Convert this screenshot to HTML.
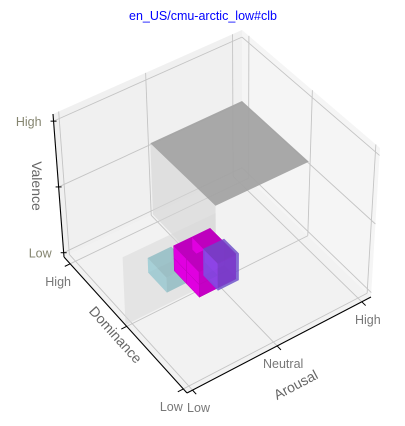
<!DOCTYPE html>
<html><head><meta charset="utf-8">
<style>
body{margin:0;background:#fff;}
svg{display:block;font-family:"Liberation Sans","DejaVu Sans",sans-serif;}
</style></head>
<body>
<svg id="chart" width="405" height="426" viewBox="0 0 405 426" xmlns="http://www.w3.org/2000/svg">
<text x="203" y="20" text-anchor="middle" font-size="12.5" fill="#0000ff">en_US/cmu-arctic_low#clb</text>
<g id="panes"></g>
<g id="grid"></g>
<g id="vox"></g>
<g id="axes"></g>
</svg>
<script>
// tick data
const tickLabels = ["Low", "Neutral", "High"];
const dominanceTickLabels = ["Low", "", "High"];
const valenceTickLabels = ["Low", "", "High"];
const tickPos = [0.03, 0.49, 0.95];
// voxel data (normalized ranges along arousal, dominance, valence), drawn back to front
const voxArousal0 = [0.27, 0.36, 0.46, 0.36, 0.46, 0.36, 0.46, 0.36, 0.46, 0.455];
const voxArousal1 = [0.40, 0.46, 0.56, 0.46, 0.56, 0.46, 0.56, 0.46, 0.56, 0.57];
const voxDominance0 = [0.56, 0.53, 0.53, 0.53, 0.53, 0.43, 0.43, 0.43, 0.43, 0.42];
const voxDominance1 = [0.71, 0.63, 0.63, 0.63, 0.63, 0.53, 0.53, 0.53, 0.53, 0.535];
const voxValence0 = [0.0, 0.03, 0.03, 0.115, 0.115, 0.03, 0.03, 0.115, 0.115, 0.025];
const voxValence1 = [0.10, 0.115, 0.115, 0.20, 0.20, 0.115, 0.115, 0.20, 0.20, 0.205];
const voxColor = ["#7cc4d0", "#e000e0", "#e000e0", "#e000e0", "#e000e0", "#e000e0", "#e000e0", "#e000e0", "#e000e0", "#7a55e8"];
const voxAlpha = [0.45, 1, 1, 1, 1, 1, 1, 1, 1, 0.7];

const NS = "http://www.w3.org/2000/svg";
const F0=[187,393],R0=[371,297],B0=[242,172],L0=[64,257];
const F1=[185,235],R1=[380,148],B1=[242,30],L1=[53,114];
function bil(a,b,c,d,u,w){return [a[0]*(1-u)*(1-w)+b[0]*u*(1-w)+c[0]*(1-u)*w+d[0]*u*w, a[1]*(1-u)*(1-w)+b[1]*u*(1-w)+c[1]*(1-u)*w+d[1]*u*w];}
function proj(u,w,t){const p=bil(F0,R0,L0,B0,u,w),q=bil(F1,R1,L1,B1,u,w);return [p[0]+(q[0]-p[0])*t,p[1]+(q[1]-p[1])*t];}
function poly(g,pts,fill,op,stroke){const e=document.createElementNS(NS,"polygon");e.setAttribute("points",pts.map(p=>p[0].toFixed(1)+","+p[1].toFixed(1)).join(" "));e.setAttribute("fill",fill);e.setAttribute("fill-opacity",op);if(stroke){e.setAttribute("stroke",stroke);e.setAttribute("stroke-width","0.5");}g.appendChild(e);return e;}
function line(g,a,b,col,wd){const e=document.createElementNS(NS,"line");e.setAttribute("x1",a[0]);e.setAttribute("y1",a[1]);e.setAttribute("x2",b[0]);e.setAttribute("y2",b[1]);e.setAttribute("stroke",col);e.setAttribute("stroke-width",wd);g.appendChild(e);return e;}
function txt(g,x,y,s,col,size,rot,anchor){const e=document.createElementNS(NS,"text");e.setAttribute("x",x);e.setAttribute("y",y);e.setAttribute("fill",col);e.setAttribute("font-size",size);e.setAttribute("text-anchor",anchor||"middle");if(rot)e.setAttribute("transform","rotate("+rot+" "+x+" "+y+")");e.textContent=s;g.appendChild(e);return e;}

const panes=document.getElementById("panes");
let p=poly(panes,[proj(0,0,0),proj(1,0,0),proj(1,1,0),proj(0,1,0)],"#f2f2f2",1);


p=poly(panes,[proj(0,1,0),proj(1,1,0),proj(1,1,1),proj(0,1,1)],"#f0f0f0",1);


p=poly(panes,[proj(1,0,0),proj(1,1,0),proj(1,1,1),proj(1,0,1)],"#f5f5f5",1);



const grid=document.getElementById("grid");
tickPos.forEach(v=>{
  let l;
  l=line(grid,proj(v,0,0),proj(v,1,0),"#c4c4c4",0.9);
  l=line(grid,proj(v,1,0),proj(v,1,1),"#c4c4c4",0.9);
  l=line(grid,proj(0,v,0),proj(1,v,0),"#c4c4c4",0.9);
  l=line(grid,proj(1,v,0),proj(1,v,1),"#c4c4c4",0.9);
  l=line(grid,proj(0,1,v),proj(1,1,v),"#c4c4c4",0.9);
  l=line(grid,proj(1,0,v),proj(1,1,v),"#c4c4c4",0.9);
});

const vox=document.getElementById("vox");
let gg=document.createElementNS(NS,"g");


vox.appendChild(gg);
poly(gg,[proj(0.5,0.5,0),proj(0.5,1,0),proj(0.5,1,0.5),proj(0.5,0.5,0.5)],"#d4d4d4",0.6);
poly(gg,[proj(0.5,0.5,0.5),proj(1,0.5,0.5),proj(1,1,0.5),proj(0.5,1,0.5)],"#a3a3a3",0.95);
poly(gg,[proj(0,0.5,0),proj(0.5,0.5,0),proj(0.5,0.5,0.45),proj(0,0.5,0.45)],"#d8d8d8",0.55);

function shade(hex,k){const n=parseInt(hex.slice(1),16);let r=(n>>16)&255,g=(n>>8)&255,b=n&255;return "rgb("+Math.round(r*k)+","+Math.round(g*k)+","+Math.round(b*k)+")";}
voxColor.forEach((c,i)=>{
  const u0=voxArousal0[i],u1=voxArousal1[i],w0=voxDominance0[i],w1=voxDominance1[i],t0=voxValence0[i],t1=voxValence1[i];
  const a=voxAlpha[i];
  const g=document.createElementNS(NS,"g");
  
  
  vox.appendChild(g);
  const st=a<1?null:shade(c,0.85);
  if(a<1){
    poly(g,[proj(u0,w0,t0),proj(u1,w0,t0),proj(u1,w1,t0),proj(u0,w1,t0)],shade(c,0.8),a*0.5);
    poly(g,[proj(u1,w0,t0),proj(u1,w1,t0),proj(u1,w1,t1),proj(u1,w0,t1)],shade(c,0.9),a*0.5);
    poly(g,[proj(u0,w1,t0),proj(u1,w1,t0),proj(u1,w1,t1),proj(u0,w1,t1)],shade(c,0.95),a*0.5);
  }
  poly(g,[proj(u0,w0,t0),proj(u1,w0,t0),proj(u1,w0,t1),proj(u0,w0,t1)],shade(c,0.88),a,st);
  poly(g,[proj(u0,w0,t0),proj(u0,w1,t0),proj(u0,w1,t1),proj(u0,w0,t1)],shade(c,1.0),a,st);
  poly(g,[proj(u0,w0,t1),proj(u1,w0,t1),proj(u1,w1,t1),proj(u0,w1,t1)],shade(c,0.85),a,st);
});

const axes=document.getElementById("axes");
let l;
l=line(axes,proj(0,0,0),proj(1,0,0),"#000",1.1);
l=line(axes,proj(0,0,0),proj(0,1,0),"#000",1.1);
l=line(axes,proj(0,1,0),proj(0,1,1),"#000",1.1);
tickPos.forEach((v,i)=>{
  let a=proj(v,0,0),b=proj(v,-0.03,0),t;
  l=line(axes,a,b,"#000",1);
  t=txt(axes,a[0]+6,a[1]+22,tickLabels[i],"#777",12.5);
  
  
  a=proj(0,v,0);b=proj(-0.03,v,0);
  l=line(axes,a,b,"#000",1);
  if(dominanceTickLabels[i]){
    t=txt(axes,a[0]-12,a[1]+22,dominanceTickLabels[i],"#777",12.5);
    
    
  }
  a=proj(0,1,v);
  l=line(axes,[a[0]-3,a[1]],[a[0]+3,a[1]],"#000",1);
  if(valenceTickLabels[i]){
    t=txt(axes,a[0]-12,a[1]+5,valenceTickLabels[i],"#858570",12.5,0,"end");
    
    
  }
});
let t=txt(axes,298,389,"Arousal","#666",14,-28);


t=txt(axes,112,338,"Dominance","#666",14,48);


t=txt(axes,32,186,"Valence","#666",14,90);


</script>
</body></html>
